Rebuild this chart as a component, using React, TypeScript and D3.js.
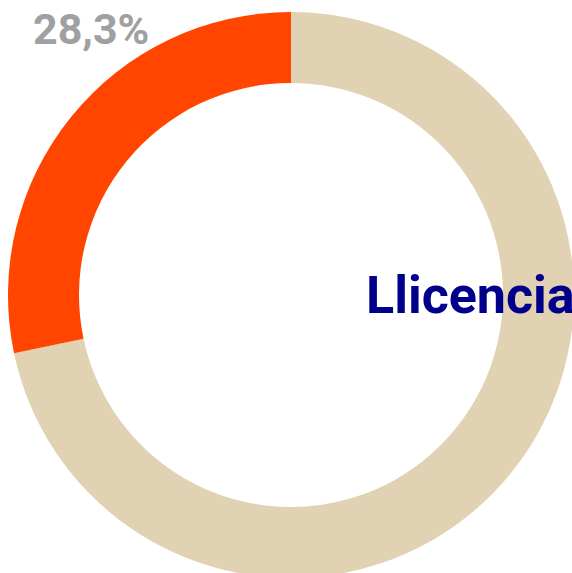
import React from "react";
import * as d3 from "d3";

const categories = ["Llicencia", "Altres"];
const values = [71.7, 28.3];
const colors = ["#E0D2B2", "#FF4500"];
const pctLabel = "28,3%";

export default function App() {
  const cx = 291, cy = 295, outerR = 283, innerR = 212;
  const pie = d3.pie<number>().sort(null).value((d) => d);
  const arcs = pie(values);
  const arc = d3.arc<d3.PieArcDatum<number>>().innerRadius(innerR).outerRadius(outerR);
  return (
    <svg width={572} height={573} style={{ position: "absolute", left: 0, top: 0 }}>
      <g transform={`translate(${cx},${cy})`}>
        {arcs.map((a, i) => (
          <path key={categories[i]} d={arc(a) || ""} fill={colors[i]} />
        ))}
      </g>
      <text x={33} y={44} fontFamily="Roboto" fontWeight="bold" fontSize={43} fill="#A0A0A0">{pctLabel}</text>
      <text x={366} y={313} fontFamily="Roboto" fontWeight="bold" fontSize={52} fill="#00008B">{categories[0]}</text>
    </svg>
  );
}
